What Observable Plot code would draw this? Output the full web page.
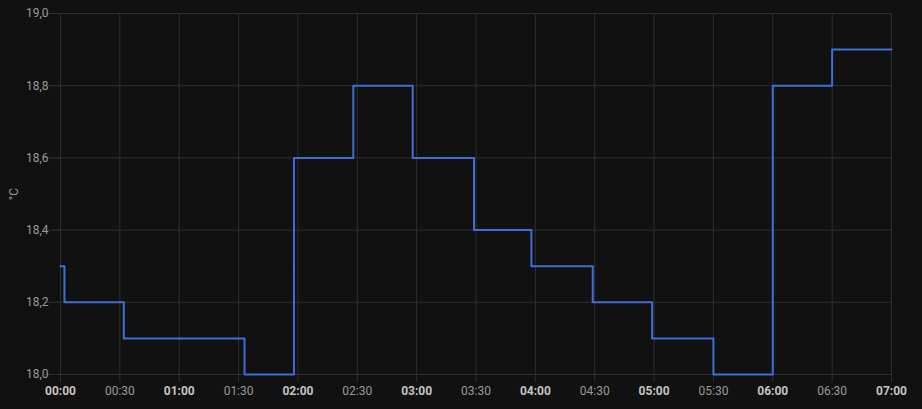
<!DOCTYPE html>
<html>
<head>
<meta charset="utf-8">
<script src="https://cdn.jsdelivr.net/npm/d3@7"></script>
<script src="https://cdn.jsdelivr.net/npm/@observablehq/plot@0.6"></script>
<style>
  html, body { margin: 0; padding: 0; background: #111111; }
  #chart { width: 922px; height: 409px; }
</style>
</head>
<body>
<div id="chart"></div>
<script>
// Step series: time of change and temperature (°C)
const times  = ["00:00","00:02","00:32","01:33","01:58","02:28","02:58","03:29","03:58","04:29","04:59","05:30","06:00","06:30","07:00"];
const values = [18.3,   18.2,   18.1,   18.0,   18.6,   18.8,   18.6,   18.4,   18.3,   18.2,   18.1,   18.0,   18.8,   18.9,   18.9];

const yTicks = [18.0, 18.2, 18.4, 18.6, 18.8, 19.0];
const hourTickLabels = ["00:00","01:00","02:00","03:00","04:00","05:00","06:00","07:00"];
const halfTickLabels = ["00:30","01:30","02:30","03:30","04:30","05:30","06:30"];

const toMin = s => { const [h, m] = s.split(":").map(Number); return h * 60 + m; };
const fmtTime = m => String(Math.floor(m / 60)).padStart(2, "0") + ":" + String(m % 60).padStart(2, "0");

const data = times.map((t, i) => ({t: toMin(t), v: values[i]}));
const hourTicks = hourTickLabels.map(toMin);
const halfTicks = halfTickLabels.map(toMin);
const allTicks = hourTicks.concat(halfTicks);

const gridColor = "#2e2e2e";

const chart = Plot.plot({
  width: 922,
  height: 409,
  marginLeft: 60,
  marginRight: 31,
  marginTop: 13,
  marginBottom: 35,
  style: {background: "#111111", color: "#9a9a9a", fontFamily: "Roboto, 'Noto Sans', sans-serif", fontSize: "12px"},
  x: {type: "linear", domain: [0, 420]},
  y: {domain: [18, 19]},
  marks: [
    Plot.gridX(allTicks, {stroke: gridColor, strokeOpacity: 1}),
    Plot.gridY(yTicks, {stroke: gridColor, strokeOpacity: 1, x1: -8}),
    Plot.axisY(yTicks, {
      tickSize: 8, tickPadding: 4, stroke: gridColor, strokeOpacity: 1, fill: "#9a9a9a",
      tickFormat: d => d.toFixed(1).replace(".", ","),
      label: "°C", labelAnchor: "center", labelOffset: 51, labelArrow: "none"
    }),
    Plot.axisX(hourTicks, {
      tickSize: 8, tickPadding: 4, stroke: gridColor, strokeOpacity: 1, fill: "#c4c4c4",
      fontWeight: "bold", tickFormat: fmtTime, label: null
    }),
    Plot.axisX(halfTicks, {
      tickSize: 8, tickPadding: 4, stroke: gridColor, strokeOpacity: 1, fill: "#9a9a9a",
      tickFormat: fmtTime, label: null
    }),
    Plot.line(data, {x: "t", y: "v", curve: "step-after", stroke: "#3c6fd8", strokeWidth: 2})
  ]
});
document.getElementById("chart").appendChild(chart);
</script>
</body>
</html>
